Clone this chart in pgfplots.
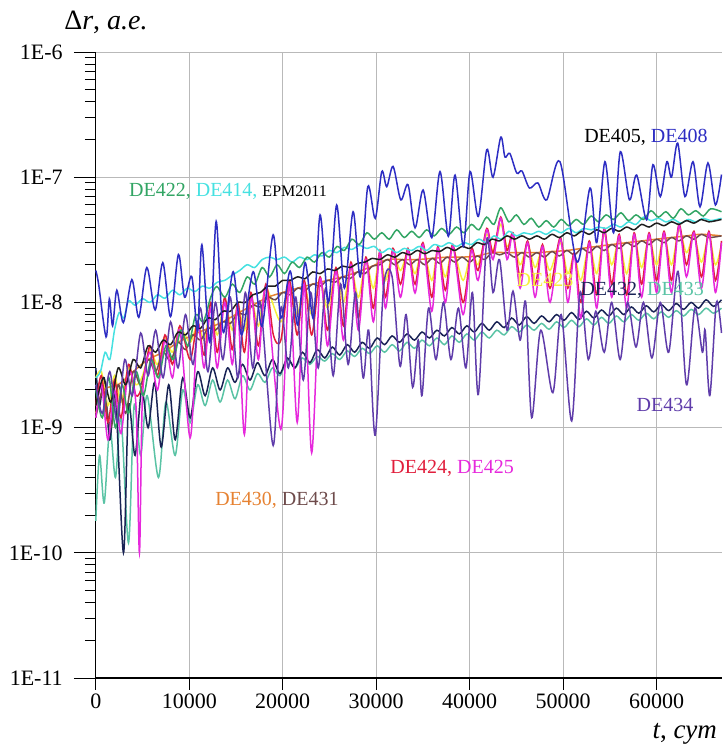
\documentclass[border=0pt]{standalone}
\usepackage{fontspec}
\setmainfont{Liberation Serif}
\usepackage{pgfplots}
\pgfplotsset{compat=1.18}

\definecolor{cblue}{RGB}{45,45,195}
\definecolor{cpurple}{RGB}{95,60,170}
\definecolor{cred}{RGB}{225,30,60}
\definecolor{cmag}{RGB}{230,40,220}
\definecolor{cyel}{RGB}{245,240,60}
\definecolor{ccyan}{RGB}{70,225,225}
\definecolor{cgreen}{RGB}{50,165,100}
\definecolor{cblack}{RGB}{30,30,30}
\definecolor{cbrown}{RGB}{110,75,75}
\definecolor{corange}{RGB}{230,130,50}
\definecolor{cnavy}{RGB}{25,35,85}
\definecolor{cteal}{RGB}{90,195,165}

\begin{document}
\begin{tikzpicture}
\useasboundingbox (-47.9pt,-34pt) rectangle (314.1pt,339pt);
\begin{axis}[
    scale only axis,
    width=313.1pt, height=313pt,
    ymode=log,
    xmin=0, xmax=67000,
    ymin=1e-11, ymax=1e-6,
    axis x line=bottom, axis y line=left,
    axis line style={-, black, line width=0.6pt},
    scaled x ticks=false,
    xtick={0,10000,20000,30000,40000,50000,60000},
    xticklabels={0,10000,20000,30000,40000,50000,60000},
    ytick={1e-11,1e-10,1e-9,1e-8,1e-7,1e-6},
    yticklabels={1E-11,1E-10,1E-9,1E-8,1E-7,1E-6},
    tick align=outside,
    major tick length=11pt, minor tick length=5.5pt,
    xtick style={/pgfplots/major tick length=6pt},
    tick style={black, line width=0.5pt},
    grid=major,
    major grid style={gray!55, line width=0.5pt},
    ticklabel style={font=\fontsize{11}{12}\selectfont},
    xticklabel style={yshift=6.5pt},
    yticklabel style={xshift=-2pt},
    clip=false,
    every axis plot/.append style={line width=0.75pt, smooth, mark=none},
]

% DE433
\addplot[cteal] coordinates {
(0,1.8e-10) (400,6e-10) (900,2.5e-10) (1500,1.0e-9) (2100,4e-10) (2700,1.2e-9) (3500,1.2e-10)
(4100,1.5e-9) (4800,6e-10) (5500,1.8e-9) (6700,4e-10) (7500,1.6e-9) (8490,6e-10) (9300,2.0e-9)
(10100,1.1e-9) (10900,2.2e-9) (11700,1.5e-9) (12500,2.4e-9) (13300,1.6e-9) (14100,2.4e-9)
(14900,1.7e-9) (15700,2.6e-9) (16500,2.0e-9) (17300,2.7e-9) (18100,2.3e-9) (18900,3.0e-9)
(19700,2.6e-9) (20500,3.5e-9) (21300,3.0e-9) (22100,3.6e-9) (22900,3.2e-9) (23700,3.7e-9)
(24500,3.4e-9) (25300,3.9e-9) (26100,3.5e-9) (26900,4.1e-9) (27700,3.7e-9) (28500,4.3e-9)
(29300,3.9e-9) (30100,4.5e-9) (30900,4.0e-9) (31700,4.6e-9) (32500,4.1e-9) (33300,4.8e-9)
(34100,4.3e-9) (34900,5.0e-9) (35700,4.5e-9) (36500,5.2e-9) (37300,4.6e-9) (38100,5.4e-9)
(38900,4.8e-9) (39700,5.6e-9) (40500,5.0e-9) (41300,5.8e-9) (42100,5.2e-9) (42900,6.0e-9)
(43700,5.5e-9) (44500,6.4e-9) (45300,5.8e-9) (46100,6.6e-9) (46900,6.0e-9) (47700,6.8e-9)
(48500,6.1e-9) (49300,7.0e-9) (50100,6.3e-9) (50900,7.2e-9) (51700,6.4e-9) (52500,7.4e-9)
(53300,6.6e-9) (54100,7.6e-9) (54900,6.8e-9) (55700,7.8e-9) (56500,7.0e-9) (57300,8.0e-9)
(58100,7.2e-9) (58900,8.2e-9) (59700,7.4e-9) (60500,8.4e-9) (61300,7.6e-9) (62100,8.6e-9)
(62900,7.8e-9) (63700,8.8e-9) (64500,8.0e-9) (65300,9.0e-9) (66100,8.2e-9) (66950,9.0e-9)
};
% DE432
\addplot[cnavy] coordinates {
(0,3e-9) (400,1.5e-9) (900,2.5e-9) (1500,8e-10) (2100,1.8e-9) (2960,1.0e-10) (3500,1.5e-9)
(4200,6e-10) (4900,2.0e-9) (5600,1.0e-9) (6300,2.3e-9) (7000,7e-10) (7800,2.2e-9) (8500,8e-10)
(9300,2.5e-9) (10100,1.2e-9) (10900,2.8e-9) (11700,1.8e-9) (12500,3.0e-9) (13300,2.0e-9)
(14100,3.0e-9) (14900,2.3e-9) (15700,3.2e-9) (16500,2.4e-9) (17300,3.3e-9) (18100,2.6e-9)
(18900,3.5e-9) (19700,2.7e-9) (20500,3.6e-9) (21300,3.0e-9) (22100,4.0e-9) (22900,3.3e-9)
(23700,4.2e-9) (24500,3.6e-9) (25300,4.4e-9) (26100,3.8e-9) (26900,4.6e-9) (27700,4.0e-9)
(28500,4.8e-9) (29300,4.3e-9) (30100,5.2e-9) (30900,4.6e-9) (31700,5.4e-9) (32500,4.8e-9)
(33300,5.6e-9) (34100,5.0e-9) (34900,5.8e-9) (35700,5.2e-9) (36500,6.0e-9) (37300,5.4e-9)
(38100,6.3e-9) (38900,5.6e-9) (39700,6.5e-9) (40500,5.8e-9) (41300,6.8e-9) (42100,6.0e-9)
(42900,7.0e-9) (43700,6.3e-9) (44500,7.5e-9) (45300,6.6e-9) (46100,7.7e-9) (46900,6.8e-9)
(47700,7.8e-9) (48500,7.0e-9) (49300,8.0e-9) (50100,7.2e-9) (50900,8.3e-9) (51700,7.3e-9)
(52500,8.5e-9) (53300,7.5e-9) (54100,8.7e-9) (54900,7.8e-9) (55700,9.0e-9) (56500,8.0e-9)
(57300,9.2e-9) (58100,8.2e-9) (58900,9.4e-9) (59700,8.4e-9) (60500,9.6e-9) (61300,8.6e-9)
(62100,9.8e-9) (62900,8.8e-9) (63700,1.0e-8) (64500,9.0e-9) (65300,1.05e-8) (66100,9.3e-9)
(66950,1.05e-8)
};
% DE423
\addplot[cyel] coordinates {
(0,2.5e-9) (600,2.8e-9) (1300,1.5e-9) (2000,2.6e-9) (2700,1.6e-9) (3500,3.0e-9) (4300,2.2e-9)
(5000,2.6e-9) (5800,4.2e-9) (6600,3.2e-9) (7400,5.2e-9) (8200,4.0e-9) (9000,6.2e-9) (10100,4.8e-9)
(10900,6.8e-9) (11600,5.0e-9) (12300,9e-9) (13000,5.5e-9) (13800,1.0e-8) (14600,6e-9) (15200,9.5e-9)
(15900,6e-9) (16600,1.1e-8) (17400,6.5e-9) (18200,1.3e-8) (19800,7e-9) (20700,1.4e-8) (21550,8e-9)
(22300,1.4e-8) (23100,8e-9) (24000,1.5e-8) (24800,9e-9) (25700,1.8e-8) (26500,1.0e-8) (27300,1.9e-8)
(28100,1.1e-8) (28900,2.1e-8) (29700,1.3e-8) (30400,2.4e-8) (31000,1.5e-8) (31800,2.5e-8)
(32600,1.8e-8) (33400,2.5e-8) (34160,1.7e-8) (35000,2.7e-8) (35950,1.5e-8) (36600,2.6e-8)
(37400,1.6e-8) (38200,2.7e-8) (39300,1.5e-8) (40200,2.6e-8) (40900,2.0e-8) (41830,3.5e-8)
(42500,2.6e-8) (43330,4.2e-8) (44000,2.8e-8) (44640,3.3e-8) (45400,2.0e-8) (46200,2.9e-8)
(47000,1.9e-8) (47800,2.7e-8) (48600,1.8e-8) (49700,3.0e-8) (50500,1.7e-8) (51200,2.4e-8)
(51900,1.5e-8) (52800,2.9e-8) (53600,1.7e-8) (54400,3.5e-8) (55200,2.0e-8) (56000,3.2e-8)
(56800,1.7e-8) (57600,3.3e-8) (58400,1.9e-8) (59200,3.3e-8) (60000,2.0e-8) (60800,3.4e-8)
(61600,2.0e-8) (62400,3.8e-8) (63200,2.5e-8) (64000,3.4e-8) (64800,2.1e-8) (65600,3.4e-8)
(66300,2.0e-8) (66950,2.9e-8)
};
% DE430
\addplot[corange] coordinates {
(0,1.3e-9) (800,2.0e-9) (2400,2.2e-9) (4000,2.8e-9) (5600,3.5e-9) (7200,4.0e-9) (8800,4.8e-9)
(10400,5.5e-9) (12000,6.2e-9) (13600,7.0e-9) (15200,8.2e-9) (16800,9.5e-9) (18400,1.1e-8)
(20000,1.2e-8) (21600,1.3e-8) (23200,1.4e-8) (24800,1.5e-8) (26400,1.6e-8) (28000,1.75e-8)
(29600,1.95e-8) (31200,2.2e-8) (32800,2.2e-8) (34400,2.2e-8) (36000,2.25e-8) (37600,2.3e-8)
(39200,2.3e-8) (40800,2.35e-8) (42400,2.5e-8) (44000,2.5e-8) (45600,2.5e-8) (47200,2.5e-8)
(48800,2.55e-8) (50400,2.6e-8) (52000,2.7e-8) (53600,2.8e-8) (55200,2.9e-8) (56800,3.0e-8)
(58400,3.1e-8) (60000,3.2e-8) (61600,3.3e-8) (63200,3.4e-8) (64800,3.5e-8) (66950,3.4e-8)
};
% DE431
\addplot[cbrown] coordinates {
(0,1.2e-9) (800,2.0e-9) (1600,1.0e-9) (2400,2.2e-9) (3200,1.3e-9) (4000,2.8e-9) (4800,2.2e-9)
(5600,3.5e-9) (6400,2.8e-9) (7200,4.0e-9) (8000,3.4e-9) (8800,4.8e-9) (9600,4.2e-9) (10400,5.5e-9)
(11200,5.0e-9) (12000,6.2e-9) (12800,6.0e-9) (13600,7.0e-9) (14400,6.8e-9) (15200,8.2e-9)
(16000,8.0e-9) (16800,9.5e-9) (17600,9.2e-9) (18400,1.1e-8) (19200,1.05e-8) (20000,1.2e-8)
(20800,1.15e-8) (21600,1.3e-8) (22400,1.25e-8) (23200,1.4e-8) (24000,1.35e-8) (24800,1.5e-8)
(25600,1.45e-8) (26400,1.6e-8) (27200,1.55e-8) (28000,1.75e-8) (28800,1.7e-8) (29600,1.95e-8)
(30400,2.0e-8) (31200,2.2e-8) (32000,2.0e-8) (32800,2.2e-8) (33600,2.0e-8) (34400,2.2e-8)
(35200,2.0e-8) (36000,2.25e-8) (36800,2.05e-8) (37600,2.3e-8) (38400,2.1e-8) (39200,2.3e-8)
(40000,2.1e-8) (40800,2.35e-8) (41600,2.2e-8) (42400,2.5e-8) (43200,2.4e-8) (44000,2.5e-8)
(44800,2.3e-8) (45600,2.5e-8) (46400,2.3e-8) (47200,2.5e-8) (48000,2.3e-8) (48800,2.55e-8)
(49600,2.35e-8) (50400,2.6e-8) (51200,2.4e-8) (52000,2.7e-8) (52800,2.5e-8) (53600,2.8e-8)
(54400,2.6e-8) (55200,2.9e-8) (56000,2.7e-8) (56800,3.0e-8) (57600,2.8e-8) (58400,3.1e-8)
(59200,2.9e-8) (60000,3.2e-8) (60800,3.0e-8) (61600,3.3e-8) (62400,3.1e-8) (63200,3.4e-8)
(64000,3.2e-8) (64800,3.5e-8) (65600,3.3e-8) (66950,3.4e-8)
};
% DE424
\addplot[cred] coordinates {
(0,1.5e-9) (600,2.6e-9) (1300,1.1e-9) (2000,2.4e-9) (2700,1.2e-9) (3500,3.2e-9) (4300,1.8e-9)
(5000,2.2e-9) (5800,4.5e-9) (6600,2.6e-9) (7400,5.5e-9) (8200,3.2e-9) (9000,6.5e-9) (10100,3.5e-9)
(10900,7e-9) (11600,3.8e-9) (12300,1.0e-8) (13000,4.0e-9) (13800,1.1e-8) (14600,4.2e-9)
(15200,1.0e-8) (15900,4.0e-9) (16600,1.2e-8) (17400,4.5e-9) (18200,1.4e-8) (19000,5.5e-9)
(19800,5e-9) (20700,1.5e-8) (21550,5.5e-9) (22300,1.5e-8) (23100,5.5e-9) (24000,1.6e-8)
(24800,6e-9) (25700,1.9e-8) (26500,6.5e-9) (27300,2.1e-8) (28100,7.5e-9) (28900,2.3e-8)
(29700,9e-9) (30400,2.6e-8) (31000,1.1e-8) (31800,2.7e-8) (32600,1.4e-8) (33400,2.7e-8)
(34160,1.4e-8) (35000,3.0e-8) (35950,1.1e-8) (36600,2.8e-8) (37400,1.25e-8) (38200,2.9e-8)
(39300,1.0e-8) (40200,2.7e-8) (40900,1.8e-8) (41830,3.9e-8) (42500,2.5e-8) (43330,4.8e-8)
(44000,2.6e-8) (44640,3.6e-8) (45400,1.6e-8) (46200,3.1e-8) (47000,1.4e-8) (47800,2.9e-8)
(48600,1.3e-8) (49700,3.3e-8) (50500,1.3e-8) (51200,2.5e-8) (51900,1.0e-8) (52800,3.1e-8)
(53600,1.15e-8) (54400,3.9e-8) (55200,1.4e-8) (56000,3.5e-8) (56800,1.15e-8) (57600,3.6e-8)
(58400,1.4e-8) (59200,3.6e-8) (60000,1.5e-8) (60800,3.7e-8) (61600,1.5e-8) (62400,4.2e-8)
(63200,2.0e-8) (64000,3.7e-8) (64800,1.6e-8) (65600,3.7e-8) (66300,1.5e-8) (66950,3.1e-8)
};
% DE425
\addplot[cmag] coordinates {
(0,1.2e-9) (600,2.2e-9) (1300,8e-10) (2000,2.0e-9) (2700,9e-10) (3500,2.8e-9) (4300,1.5e-9)
(4670,1.0e-10) (5000,1.8e-9) (5800,4.0e-9) (6600,2.0e-9) (7400,5.0e-9) (8200,2.5e-9) (9000,6.0e-9)
(10100,8.3e-10) (10900,6.5e-9) (11600,3.0e-9) (12300,9e-9) (13000,3.0e-9) (13800,1.0e-8)
(14600,3.2e-9) (15200,9e-9) (15900,8.8e-10) (16600,1.1e-8) (17400,3.5e-9) (18200,1.3e-8)
(19800,9.7e-10) (20700,1.4e-8) (21550,1.1e-9) (22300,1.4e-8) (23100,6.3e-10) (24000,1.5e-8)
(24800,4.5e-9) (25700,1.8e-8) (26500,5e-9) (27300,2.0e-8) (28100,6e-9) (28900,2.2e-8) (29700,7e-9)
(30400,2.5e-8) (31000,9e-9) (31800,2.6e-8) (32600,1.1e-8) (33400,2.6e-8) (34160,1.19e-8)
(35000,2.9e-8) (35950,8.5e-9) (36600,2.7e-8) (37400,1.0e-8) (38200,2.8e-8) (39300,8e-9)
(40200,2.6e-8) (40900,1.5e-8) (41830,3.8e-8) (42500,2.2e-8) (43330,4.7e-8) (44000,2.2e-8)
(44640,3.5e-8) (45400,1.3e-8) (46200,3.0e-8) (47000,1.1e-8) (47800,2.8e-8) (48600,1.0e-8)
(49700,3.2e-8) (50500,1.0e-8) (51200,2.4e-8) (51900,7.5e-9) (52800,3.0e-8) (53600,9e-9)
(54400,3.8e-8) (55200,1.1e-8) (56000,3.4e-8) (56800,9e-9) (57600,3.5e-8) (58400,1.1e-8)
(59200,3.5e-8) (60000,1.2e-8) (60800,3.6e-8) (61600,1.2e-8) (62400,4.1e-8) (63200,1.6e-8)
(64000,3.6e-8) (64800,1.3e-8) (65600,3.6e-8) (66300,1.2e-8) (66950,3.0e-8)
};
% DE414
\addplot[ccyan] coordinates {
(0,2.5e-9) (500,2.8e-9) (1000,4.0e-9) (1500,3.5e-9) (2000,6.0e-9) (2500,8.3e-9) (3000,7.5e-9)
(3500,1.03e-8) (4200,9.5e-9) (5000,1.07e-8) (5800,1.0e-8) (6600,1.15e-8) (7400,1.08e-8)
(8200,1.25e-8) (9000,1.15e-8) (9800,1.3e-8) (10600,1.22e-8) (11400,1.35e-8) (12200,1.3e-8)
(13000,1.45e-8) (13800,1.5e-8) (14600,1.65e-8) (15400,1.8e-8) (16200,2.0e-8) (17000,1.9e-8)
(17800,2.2e-8) (18600,2.3e-8) (19400,2.2e-8) (20200,2.3e-8) (21000,2.1e-8) (21800,2.3e-8)
(22600,2.2e-8) (23400,2.4e-8) (24200,2.35e-8) (25000,2.6e-8) (25800,2.5e-8) (26600,2.75e-8)
(27400,2.65e-8) (28200,2.85e-8) (29000,2.7e-8) (29800,2.8e-8) (30600,2.5e-8) (31400,2.7e-8)
(32200,2.5e-8) (33000,2.7e-8) (33800,2.6e-8) (34600,2.8e-8) (35400,2.6e-8) (36200,2.9e-8)
(37000,2.8e-8) (37800,3.0e-8) (38600,2.8e-8) (39400,3.0e-8) (40200,2.9e-8) (41000,3.2e-8)
(41800,3.0e-8) (42600,3.4e-8) (43400,3.2e-8) (44200,3.7e-8) (45000,3.4e-8) (45800,3.6e-8)
(46600,3.5e-8) (47400,3.7e-8) (48200,3.5e-8) (49000,3.8e-8) (49800,3.6e-8) (50600,3.9e-8)
(51400,3.6e-8) (52200,3.9e-8) (53000,3.8e-8) (53800,4.0e-8) (54600,3.9e-8) (55400,4.2e-8)
(56200,4.0e-8) (57000,4.4e-8) (57800,4.2e-8) (58600,4.8e-8) (59400,4.5e-8) (60200,4.7e-8)
(61000,4.4e-8) (61800,4.6e-8) (62600,4.3e-8) (63400,4.6e-8) (64200,4.4e-8) (65000,4.7e-8)
(65800,4.5e-8) (66950,4.7e-8)
};
% DE422
\addplot[cgreen] coordinates {
(0,2.0e-9) (700,1.2e-9) (1400,2.5e-9) (2100,1.0e-9) (2800,2.2e-9) (3500,1.3e-9) (4300,2.8e-9)
(5100,1.8e-9) (5900,3.5e-9) (6700,2.5e-9) (7500,4.5e-9) (8300,3.5e-9) (9100,6e-9) (9900,4.5e-9)
(10700,8e-9) (11500,7e-9) (12300,1.1e-8) (12950,1.34e-8) (13800,1.1e-8) (14600,1.4e-8)
(15400,1.2e-8) (16200,1.6e-8) (17000,1.4e-8) (17800,1.9e-8) (18600,1.6e-8) (19400,2.0e-8)
(20200,1.7e-8) (21000,2.1e-8) (21800,1.9e-8) (22600,2.3e-8) (23400,2.1e-8) (24200,2.5e-8)
(25000,2.3e-8) (25800,2.8e-8) (26600,2.6e-8) (27400,3.2e-8) (28200,2.9e-8) (29000,3.6e-8)
(29800,3.2e-8) (30600,3.6e-8) (31400,3.2e-8) (32200,3.8e-8) (33000,3.3e-8) (33800,3.7e-8)
(34600,3.3e-8) (35400,3.8e-8) (36200,3.4e-8) (37000,3.9e-8) (37800,3.5e-8) (38600,4.0e-8)
(39400,3.6e-8) (40200,4.2e-8) (41000,3.8e-8) (41800,4.8e-8) (42600,4.2e-8) (43330,5.7e-8)
(44200,4.4e-8) (45000,5.0e-8) (45800,4.2e-8) (46600,4.7e-8) (47400,4.0e-8) (48200,4.5e-8)
(49000,4.0e-8) (49800,4.6e-8) (50600,4.1e-8) (51400,4.6e-8) (52200,4.2e-8) (53000,4.9e-8)
(53800,4.4e-8) (54600,5.0e-8) (55400,4.6e-8) (56200,5.2e-8) (57000,4.5e-8) (57800,5.0e-8)
(58600,4.6e-8) (59400,5.4e-8) (60200,4.8e-8) (61000,5.3e-8) (61800,4.7e-8) (62600,5.6e-8)
(63400,5.0e-8) (64200,5.4e-8) (65000,4.9e-8) (65800,5.6e-8) (66950,5.3e-8)
};
% EPM2011
\addplot[cblack] coordinates {
(0,1.5e-9) (800,2.5e-9) (1600,1.6e-9) (2400,3.0e-9) (3200,2.2e-9) (4000,3.5e-9) (4800,3.0e-9)
(5600,4.5e-9) (6400,4.0e-9) (7200,5.0e-9) (8000,4.6e-9) (8800,5.8e-9) (9600,5.5e-9) (10400,6.5e-9)
(11200,6.2e-9) (12000,7.5e-9) (12800,7.3e-9) (13600,8.5e-9) (14400,8.5e-9) (15200,1.0e-8)
(16000,1.0e-8) (16800,1.15e-8) (17600,1.2e-8) (18400,1.35e-8) (19200,1.35e-8) (20000,1.5e-8)
(20800,1.5e-8) (21600,1.6e-8) (22400,1.55e-8) (23200,1.75e-8) (24000,1.7e-8) (24800,1.85e-8)
(25600,1.8e-8) (26400,1.95e-8) (27200,1.9e-8) (28000,2.05e-8) (28800,2.1e-8) (29600,2.25e-8)
(30400,2.2e-8) (31200,2.4e-8) (32000,2.3e-8) (32800,2.5e-8) (33600,2.4e-8) (34400,2.6e-8)
(35200,2.45e-8) (36000,2.6e-8) (36800,2.55e-8) (37600,2.75e-8) (38400,2.6e-8) (39200,2.8e-8)
(40000,2.7e-8) (40800,3.0e-8) (41600,2.9e-8) (42400,3.2e-8) (43200,3.1e-8) (44000,3.4e-8)
(44800,3.2e-8) (45600,3.4e-8) (46400,3.2e-8) (47200,3.4e-8) (48000,3.2e-8) (48800,3.5e-8)
(49600,3.3e-8) (50400,3.6e-8) (51200,3.4e-8) (52000,3.7e-8) (52800,3.5e-8) (53600,3.8e-8)
(54400,3.6e-8) (55200,3.9e-8) (56000,3.7e-8) (56800,4.0e-8) (57600,3.8e-8) (58400,4.2e-8)
(59200,4.0e-8) (60000,4.3e-8) (60800,4.1e-8) (61600,4.4e-8) (62400,4.2e-8) (63200,4.5e-8)
(64000,4.3e-8) (64800,4.6e-8) (65600,4.4e-8) (66950,4.6e-8)
};
% DE434
\addplot[cpurple] coordinates {
(0,2.2e-9) (700,1.3e-9) (1500,2.8e-9) (2300,1.1e-9) (3100,3.5e-9) (3900,1.8e-9) (4800,5.7e-9)
(5600,2.6e-9) (6400,6.0e-9) (7200,2.5e-9) (8000,7.0e-9) (8800,3.0e-9) (9600,8.0e-9) (10400,3.2e-9)
(11200,9.0e-9) (12000,2.8e-9) (12800,1.0e-8) (13600,3.5e-9) (14400,1.1e-8) (15200,2.5e-9)
(16000,1.2e-8) (16800,3.0e-9) (17600,1.0e-8) (18980,7.2e-10) (19800,9.0e-9) (20600,3.0e-9)
(21400,1.1e-8) (22200,2.4e-9) (23000,1.2e-8) (23800,3.0e-9) (24600,1.3e-8) (25400,2.6e-9)
(26200,1.4e-8) (27000,3.2e-9) (27800,1.2e-8) (28600,2.5e-9) (29200,6e-9) (29900,8.7e-10)
(30800,1.34e-8) (31700,1.61e-8) (32550,3.1e-9) (33200,8e-9) (33900,2.1e-9) (34500,5e-9)
(34900,1.8e-9) (35600,9e-9) (36400,3.5e-9) (37200,1.0e-8) (38000,3.5e-9) (38800,9e-9)
(39600,3.0e-9) (40300,1.2e-8) (40930,1.84e-9) (41830,3.17e-8) (42500,1.2e-8) (43200,2.2e-8)
(44000,6e-9) (44640,1.23e-8) (45400,5e-9) (46000,1.0e-8) (46640,1.2e-9) (47600,6e-9)
(48900,1.9e-9) (49800,8e-9) (50920,1.13e-9) (51810,1.2e-8) (52700,3.5e-9) (53500,8.5e-9)
(54400,4e-9) (55200,1.0e-8) (56100,3.5e-9) (56900,1.0e-8) (57800,4.4e-9) (58600,1.0e-8)
(59500,3.6e-9) (60400,1.0e-8) (61300,4.0e-9) (62300,1.77e-8) (63200,2.2e-9) (64100,9e-9)
(64900,4e-9) (65200,6e-9) (65700,1.8e-9) (66400,1.0e-8) (66950,5.7e-9)
};
% DE408
\addplot[cblue] coordinates {
(0,1.8e-8) (300,1.4e-8) (1100,5.3e-9) (1450,1.07e-8) (1800,6.5e-9) (2250,1.25e-8) (2950,6.9e-9)
(3860,1.52e-8) (4600,7.6e-9) (5460,1.9e-8) (6350,8.7e-9) (7170,2.08e-8) (8000,7.7e-9)
(8840,2.41e-8) (9500,1.1e-8) (10270,1.61e-8) (10900,5.9e-9) (11350,2.89e-8) (12200,4.8e-9)
(12880,4.44e-8) (13630,5.8e-9) (14700,1.76e-8) (15600,5.5e-9) (16840,1.76e-8) (17800,6.5e-9)
(18980,3.47e-8) (19800,7.5e-9) (20800,1.78e-8) (21600,6.6e-9) (22400,2.08e-8) (23300,7.5e-9)
(24000,5.0e-8) (24900,1.0e-8) (25770,6.0e-8) (26600,1.3e-8) (27530,5.3e-8) (28300,1.6e-8)
(29100,8.4e-8) (29900,4.7e-8) (30600,1.11e-7) (31130,8.4e-8) (31810,1.22e-7) (32630,6.6e-8)
(33410,8.7e-8) (34160,3.94e-8) (35020,7.9e-8) (35950,3.29e-8) (36830,1.11e-7) (37720,3.37e-8)
(38440,1.04e-7) (39330,2.8e-8) (40040,1.11e-7) (40930,4.86e-8) (41830,1.66e-7) (42500,1.0e-7)
(43330,2.09e-7) (43780,1.45e-7) (44300,1.55e-7) (45040,1.08e-7) (45600,1.12e-7) (46400,8.2e-8)
(47300,9.0e-8) (48250,6.6e-8) (49670,1.33e-7) (51500,2.1e-8) (52880,8.2e-8) (53600,3.0e-8)
(54480,1.33e-7) (55400,3.6e-8) (56120,1.6e-7) (57100,6.6e-8) (57870,1.04e-7) (58940,4.57e-8)
(59610,1.26e-7) (60400,7.0e-8) (61100,1.33e-7) (61600,1.0e-7) (62260,1.87e-7) (63040,7.0e-8)
(63900,1.33e-7) (64650,5.8e-8) (65500,1.3e-7) (66300,6.0e-8) (66950,1.05e-7)
};

\node[font=\fontsize{14}{15}\selectfont] at (rel axis cs:0.0163,1.0479) {Δ\textit{r}, \textit{а.е.}};
\node[anchor=east, font=\fontsize{13.5}{14}\selectfont] at (rel axis cs:1.003,-0.089) {\textit{t}, \textit{сут}};

\node[font=\fontsize{10}{12}\selectfont] at (rel axis cs:0.8786,0.8642) {\textcolor{black}{DE405,} \textcolor{cblue}{DE408}};
\node[font=\fontsize{10}{12}\selectfont] at (rel axis cs:0.2111,0.7768) {\textcolor{cgreen}{DE422,} \textcolor{ccyan}{DE414,} \textcolor{black}{\fontsize{8}{10}\selectfont EPM2011}};
\node[font=\fontsize{10}{12}\selectfont, text=cyel] at (rel axis cs:0.7173,0.6358) {DE423};
\node[font=\fontsize{10}{12}\selectfont] at (rel axis cs:0.8726,0.6198) {\textcolor{cnavy}{DE432,} \textcolor{cteal}{DE433}};
\node[font=\fontsize{10}{12}\selectfont, text=cpurple] at (rel axis cs:0.9089,0.4361) {DE434};
\node[font=\fontsize{10}{12}\selectfont] at (rel axis cs:0.5690,0.3355) {\textcolor{cred}{DE424,} \textcolor{cmag}{DE425}};
\node[font=\fontsize{10}{12}\selectfont] at (rel axis cs:0.2893,0.2843) {\textcolor{corange}{DE430,} \textcolor{cbrown}{DE431}};
\end{axis}
\end{tikzpicture}
\end{document}
